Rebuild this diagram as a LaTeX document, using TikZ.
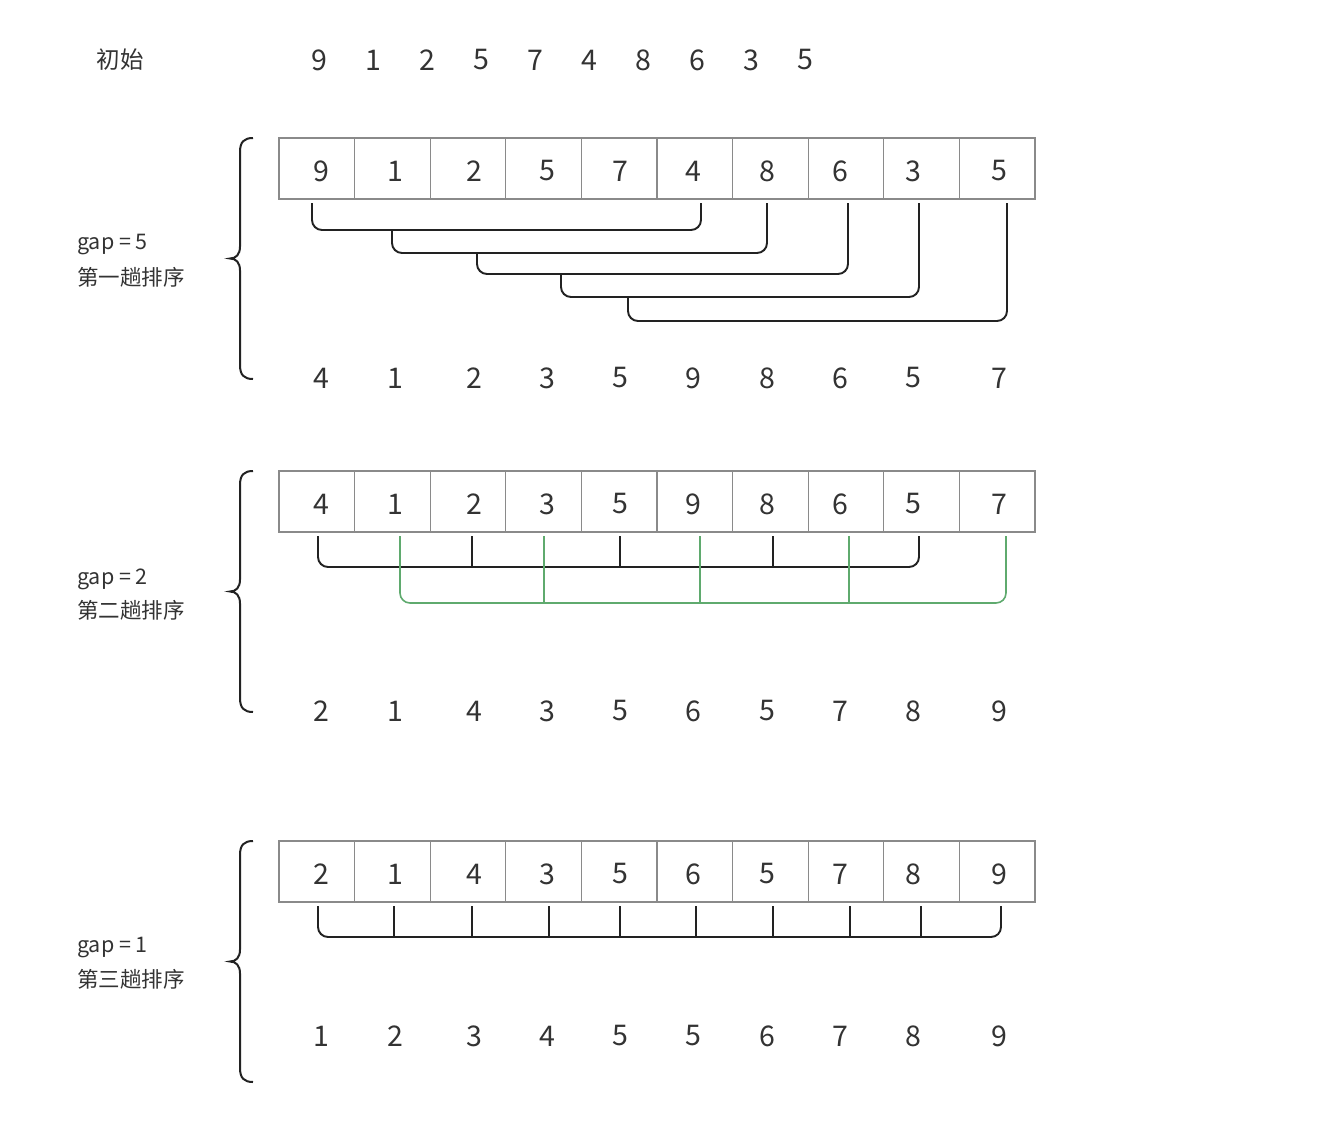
\documentclass[tikz,border=0pt]{standalone}
\usepackage{fontspec}
\usetikzlibrary{calc}
\setmainfont{Noto Sans CJK SC}
\definecolor{txt}{HTML}{333333}
\definecolor{boxgray}{HTML}{8A8A8A}
\definecolor{linek}{HTML}{222222}
\definecolor{greenl}{HTML}{5FAA6E}
\begin{document}
\begin{tikzpicture}[x=1pt,y=-1pt,
  cellbox/.style={draw=boxgray, line width=1.3pt, minimum width=75.6pt, minimum height=61pt, inner sep=0pt, outer sep=0pt},
  digit/.style={font=\fontsize{28.5}{30}\selectfont, text=txt, inner sep=0pt},
  lbl/.style={font=\fontsize{21.5}{24}\selectfont, text=txt, inner sep=0pt, anchor=west},
  conn/.style={draw=linek, line width=1.9pt, rounded corners=10pt},
  gconn/.style={draw=greenl, line width=1.6pt, rounded corners=10pt},
  brc/.style={draw=linek, line width=2pt}]
\useasboundingbox (0,0) rectangle (1327,1145);

% initial row
\node[font=\fontsize{23.5}{26}\selectfont, text=txt, inner sep=0pt] (init) at (120,60) {初始};
\foreach \v [count=\i] in {9,1,2,5,7,4,8,6,3,5}{
  \node[digit] (i\i) at ({319+54*(\i-1)},60) {\v};
}

% digit x positions
\def\dx{{321,395,474,547,620,693,767,840,913,999}}

% ---------- cells ----------
\foreach \r/\yc in {1/168.5,2/501.5,3/871.5}{
  \foreach \i in {1,...,10}{
    \node[cellbox] (c\r-\i) at ({279+37.8+75.6*(\i-1)},\yc) {};
  }
}
% box digits
\foreach \v [count=\i] in {9,1,2,5,7,4,8,6,3,5}{
  \pgfmathsetmacro\xx{\dx[\i-1]}
  \node[digit] (a\i) at (\xx,171) {\v};
}
\foreach \v [count=\i] in {4,1,2,3,5,9,8,6,5,7}{
  \pgfmathsetmacro\xx{\dx[\i-1]}
  \node[digit] (ra\i) at (\xx,378) {\v};
  \node[digit] (b\i) at (\xx,504) {\v};
}
\foreach \v [count=\i] in {2,1,4,3,5,6,5,7,8,9}{
  \pgfmathsetmacro\xx{\dx[\i-1]}
  \node[digit] (rb\i) at (\xx,711) {\v};
  \node[digit] (d\i) at (\xx,874) {\v};
}
\foreach \v [count=\i] in {1,2,3,4,5,5,6,7,8,9}{
  \pgfmathsetmacro\xx{\dx[\i-1]}
  \node[digit] (rc\i) at (\xx,1036) {\v};
}

% ---------- labels ----------
\node[lbl] (g1) at (77,245) {gap = 5};
\node[lbl] (s1) at (77,277) {第一趟排序};
\node[lbl] (g2) at (77,579) {gap = 2};
\node[lbl] (s2) at (77,610) {第二趟排序};
\node[lbl] (g3) at (77,948) {gap = 1};
\node[lbl] (s3) at (77,979) {第三趟排序};

% ---------- braces ----------
\foreach \T/\B in {138/379,471/712,841/1082}{
  \pgfmathsetmacro\M{(\T+\B)/2}
  \draw[brc] (253,\T) .. controls (244,\T) and (240,\T+4) .. (240,\T+14)
     -- (240,\M-12) .. controls (240,\M-4) and (236,\M) .. (230,\M)
     .. controls (236,\M) and (240,\M+4) .. (240,\M+12)
     -- (240,\B-14) .. controls (240,\B-4) and (244,\B) .. (253,\B);
}

% ---------- pass 1 connectors ----------
\coordinate (p1l1) at (312,203); \coordinate (p1r1) at (701,203);
\coordinate (p1l2) at (392,230); \coordinate (p1r2) at (767,203);
\coordinate (p1l3) at (477,253); \coordinate (p1r3) at (848,203);
\coordinate (p1l4) at (561,274); \coordinate (p1r4) at (919,203);
\coordinate (p1l5) at (628,297); \coordinate (p1r5) at (1007,203);
\draw[conn] (p1l1) |- ($(p1r1)+(0,27)$) -- (p1r1);
\draw[conn] (p1l2) |- ($(p1r2)+(0,50)$) -- (p1r2);
\draw[conn] (p1l3) |- ($(p1r3)+(0,71)$) -- (p1r3);
\draw[conn] (p1l4) |- ($(p1r4)+(0,94)$) -- (p1r4);
\draw[conn] (p1l5) |- ($(p1r5)+(0,118)$) -- (p1r5);

% ---------- pass 2 connectors ----------
\coordinate (p2k1) at (318,536); \coordinate (p2k5) at (919,536);
\draw[conn] (p2k1) -- ++(0,31) -| (p2k5);
\foreach \x [count=\j] in {472,620,773}{
  \coordinate (p2kt\j) at (\x,536);
  \draw[conn] (p2kt\j) -- ++(0,31);
}
\coordinate (p2g1) at (400,536); \coordinate (p2g5) at (1006,536);
\draw[gconn] (p2g1) -- ++(0,67) -| (p2g5);
\foreach \x [count=\j] in {544,700,849}{
  \coordinate (p2gt\j) at (\x,536);
  \draw[gconn] (p2gt\j) -- ++(0,67);
}

% ---------- pass 3 connectors ----------
\coordinate (p3a) at (318,906); \coordinate (p3b) at (1001,906);
\draw[conn] (p3a) -- ++(0,31) -| (p3b);
\foreach \x [count=\j] in {394,472,549,620,696,773,850,921}{
  \coordinate (p3t\j) at (\x,906);
  \draw[conn] (p3t\j) -- ++(0,31);
}
\end{tikzpicture}
\end{document}
